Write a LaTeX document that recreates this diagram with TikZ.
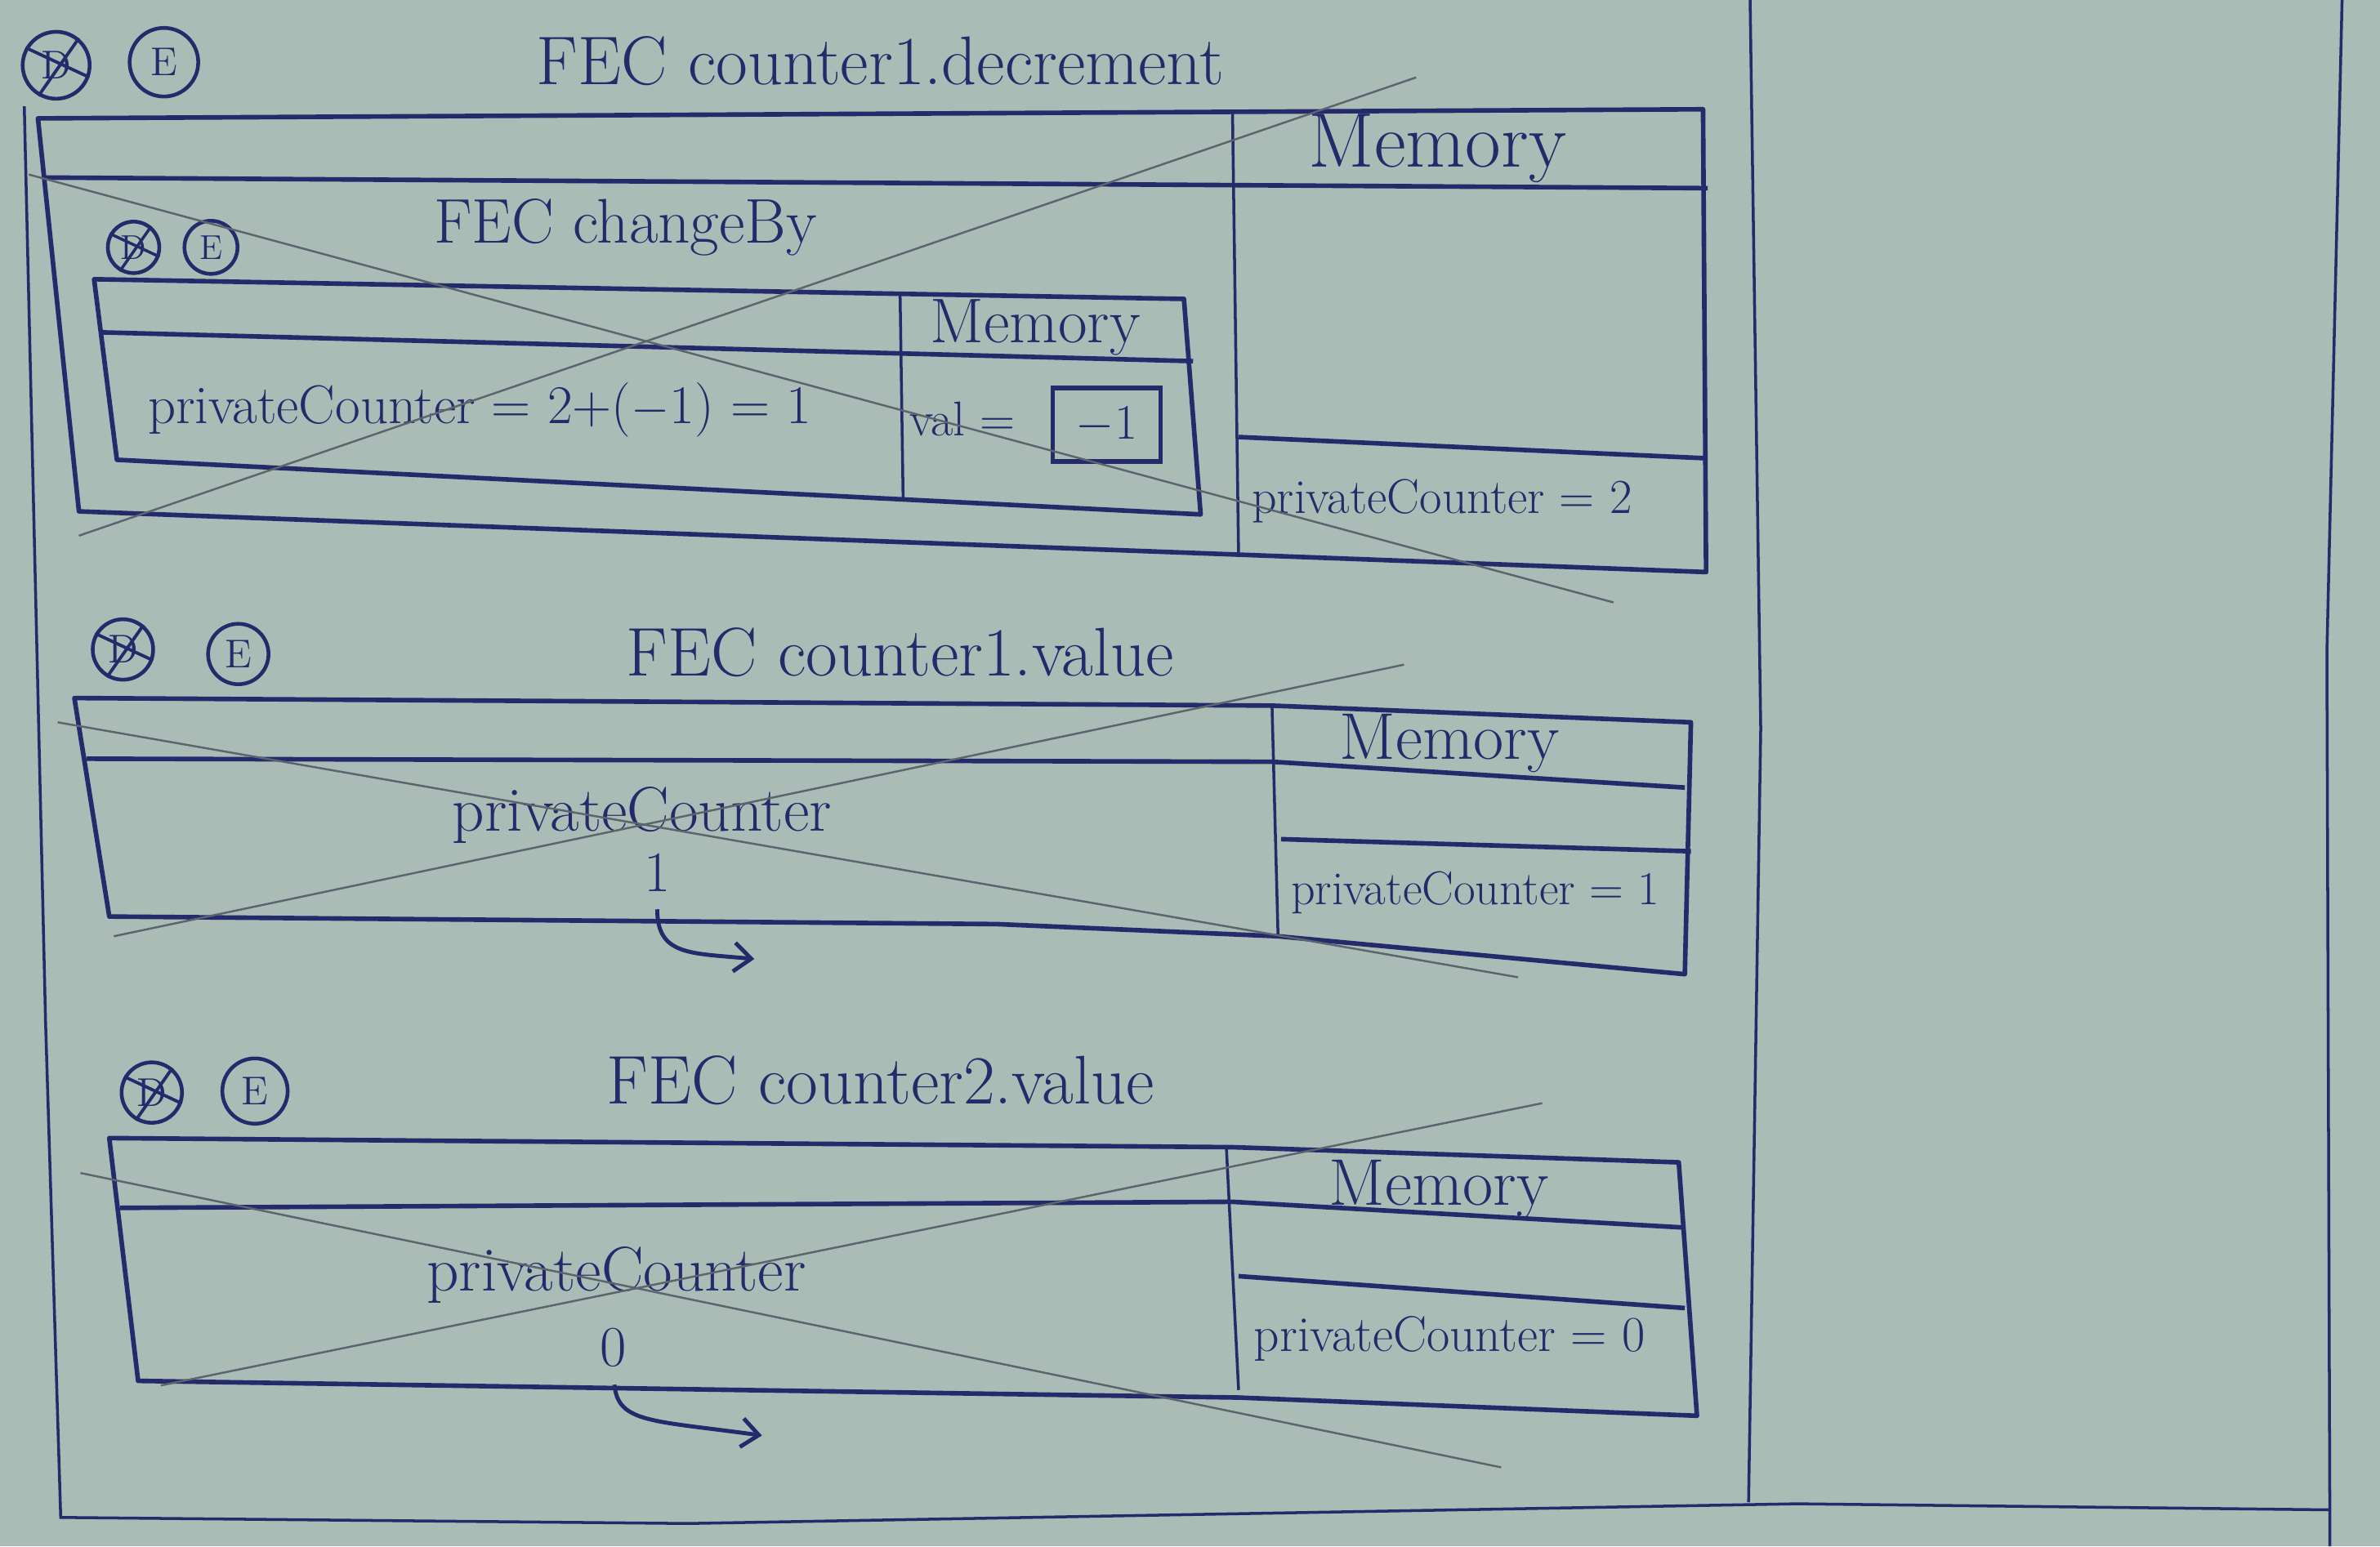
\documentclass[tikz,border=0pt]{standalone}
\usetikzlibrary{arrows.meta}
\definecolor{paper}{RGB}{170,188,181}
\definecolor{ink}{RGB}{36,42,106}
\definecolor{pencil}{RGB}{92,100,110}

\begin{document}
\begin{tikzpicture}  % ------ Contextes d'execution -----------
      [x={(0.018578cm,0cm)},y={(0cm,-0.018578cm)},
       box/.style={ink,line width=1.6pt,line join=round},
       rule/.style={ink,line width=1pt},
       strike/.style={pencil,line width=0.7pt},
       hand/.style={text=ink,inner sep=1pt},
       ttl/.style={hand,font=\fontsize{24}{28}\selectfont},
       mem/.style={hand,font=\fontsize{23}{27}\selectfont},
       cell/.style={hand,font=\fontsize{17}{20}\selectfont},
       ctx/.style={circle,draw=ink,line width=1.3pt,minimum size=0.74cm,inner sep=0pt,
                   text=ink,font=\fontsize{14}{16}\selectfont},
       arr/.style={ink,line width=1.4pt,-{Straight Barb[length=6pt,width=10pt]}}]
    \fill[paper] (0,0) rectangle (1568,1019);
    \useasboundingbox (0,0) rectangle (1568,1019);

    % page
    \draw[rule] (16,70) -- (30,673) -- (40,1000) -- (453,1004) -- (1184,991) -- (1535,995);
    \draw[rule] (1153,0) -- (1160,480) -- (1152,990);
    \draw[rule] (1543,0) -- (1533,430) -- (1535,1019);

    % ------ counter1.decrement -----------
    \node[ctx,minimum size=0.82cm] (d1) at (37,43) {D};
    \draw[ink,line width=1.1pt] (d1.150) -- (d1.-20) (d1.50) -- (d1.240);
    \node[ctx,minimum size=0.84cm] (e1) at (108,41) {E};
    \node[ttl] (t1) at (580,40) {FEC counter1.decrement};

    \coordinate (A1) at (25,78);
    \coordinate (A2) at (1122,72);
    \coordinate (A3) at (1124,377);
    \coordinate (A4) at (52,337);
    \draw[box] (A1) -- (A2) -- (A3) -- (A4) -- cycle;
    \draw[box] (30,117) -- (1125,124);
    \draw[rule] (812,74) -- (816,366);
    \draw[box] (816,288) -- (1124,302);
    \node[mem,font=\fontsize{27}{31}\selectfont] (m1) at (947,98) {Memory};
    \node[cell] (p1) at (950,330) {privateCounter = 2};

    % ------ changeBy -----------
    \node[ctx,minimum size=0.63cm,font=\fontsize{12}{14}\selectfont] (d2) at (88,163) {D};
    \draw[ink,line width=1pt] (d2.150) -- (d2.-20) (d2.50) -- (d2.240);
    \node[ctx,minimum size=0.65cm,font=\fontsize{12}{14}\selectfont] (e2) at (139,163) {E};
    \node[ttl,font=\fontsize{22}{26}\selectfont] (t2) at (412,150) {FEC changeBy};

    \coordinate (B1) at (62,184);
    \coordinate (B2) at (780,197);
    \coordinate (B3) at (791,339);
    \coordinate (B4) at (77,303);
    \draw[box] (B1) -- (B2) -- (B3) -- (B4) -- cycle;
    \draw[box] (66,219) -- (786,238);
    \draw[rule] (593,194) -- (595,329);
    \node[mem,font=\fontsize{22}{26}\selectfont] (m2) at (682,216) {Memory};
    \node[cell,font=\fontsize{19}{22}\selectfont] (c2) at (316,270) {privateCounter = 2+($-$1) = 1};
    \node[cell] (val) at (634,276) {val =};
    \node[draw=ink,line width=1.6pt,minimum width=1.32cm,minimum height=0.9cm,
          text=ink,font=\fontsize{17}{20}\selectfont] (vb) at (729,280) {$-1$};

    \draw[strike] (19,115) -- (1063,397);
    \draw[strike] (52,353) -- (933,51);

    % ------ counter1.value -----------
    \node[ctx] (d3) at (81,428) {D};
    \draw[ink,line width=1.1pt] (d3.150) -- (d3.-20) (d3.50) -- (d3.240);
    \node[ctx] (e3) at (157,431) {E};
    \node[ttl] (t3) at (593,430) {FEC counter1.value};

    \draw[box] (49,460) -- (838,465) -- (1114,476) -- (1110,642) -- (842,617)
               -- (657,609) -- (72,604) -- cycle;
    \draw[box] (57,500) -- (838,502) -- (1110,519);
    \draw[rule] (838,464) -- (842,617);
    \draw[box] (844,553) -- (1114,561);
    \node[mem] (m3) at (955,490) {Memory};
    \node[cell,font=\fontsize{16.5}{19}\selectfont] (p3) at (972,588) {privateCounter = 1};
    \node[hand,font=\fontsize{22}{26}\selectfont] (n3) at (423,537) {privateCounter};
    \node[hand,font=\fontsize{20}{24}\selectfont] (one) at (433,575) {1};
    \coordinate (r3) at (497,632);
    \draw[arr,shorten <=5pt] (one.south) .. controls (433,630) and (455,628) .. (r3);

    \draw[strike] (38,476) -- (1000,644);
    \draw[strike] (75,617) -- (925,438);

    % ------ counter2.value -----------
    \node[ctx] (d4) at (100,720) {D};
    \draw[ink,line width=1.1pt] (d4.150) -- (d4.-20) (d4.50) -- (d4.240);
    \node[ctx,minimum size=0.8cm] (e4) at (168,719) {E};
    \node[ttl] (t4) at (580,712) {FEC counter2.value};

    \draw[box] (72,750) -- (812,756) -- (1106,766) -- (1118,933) -- (816,921)
               -- (91,910) -- cycle;
    \draw[box] (79,796) -- (812,792) -- (1110,809);
    \draw[rule] (808,757) -- (816,916);
    \draw[box] (816,841) -- (1110,862);
    \node[mem] (m4) at (948,784) {Memory};
    \node[cell,font=\fontsize{17.5}{21}\selectfont] (p4) at (955,882) {privateCounter = 0};
    \node[hand,font=\fontsize{22}{26}\selectfont] (n4) at (406,840) {privateCounter};
    \node[hand,font=\fontsize{20}{24}\selectfont] (zero) at (404,888) {0};
    \coordinate (r4) at (502,946);
    \draw[arr,shorten <=5pt] (zero.south) .. controls (407,938) and (430,936) .. (r4);

    \draw[strike] (53,773) -- (989,967);
    \draw[strike] (106,913) -- (1016,727);
\end{tikzpicture}
\end{document}
